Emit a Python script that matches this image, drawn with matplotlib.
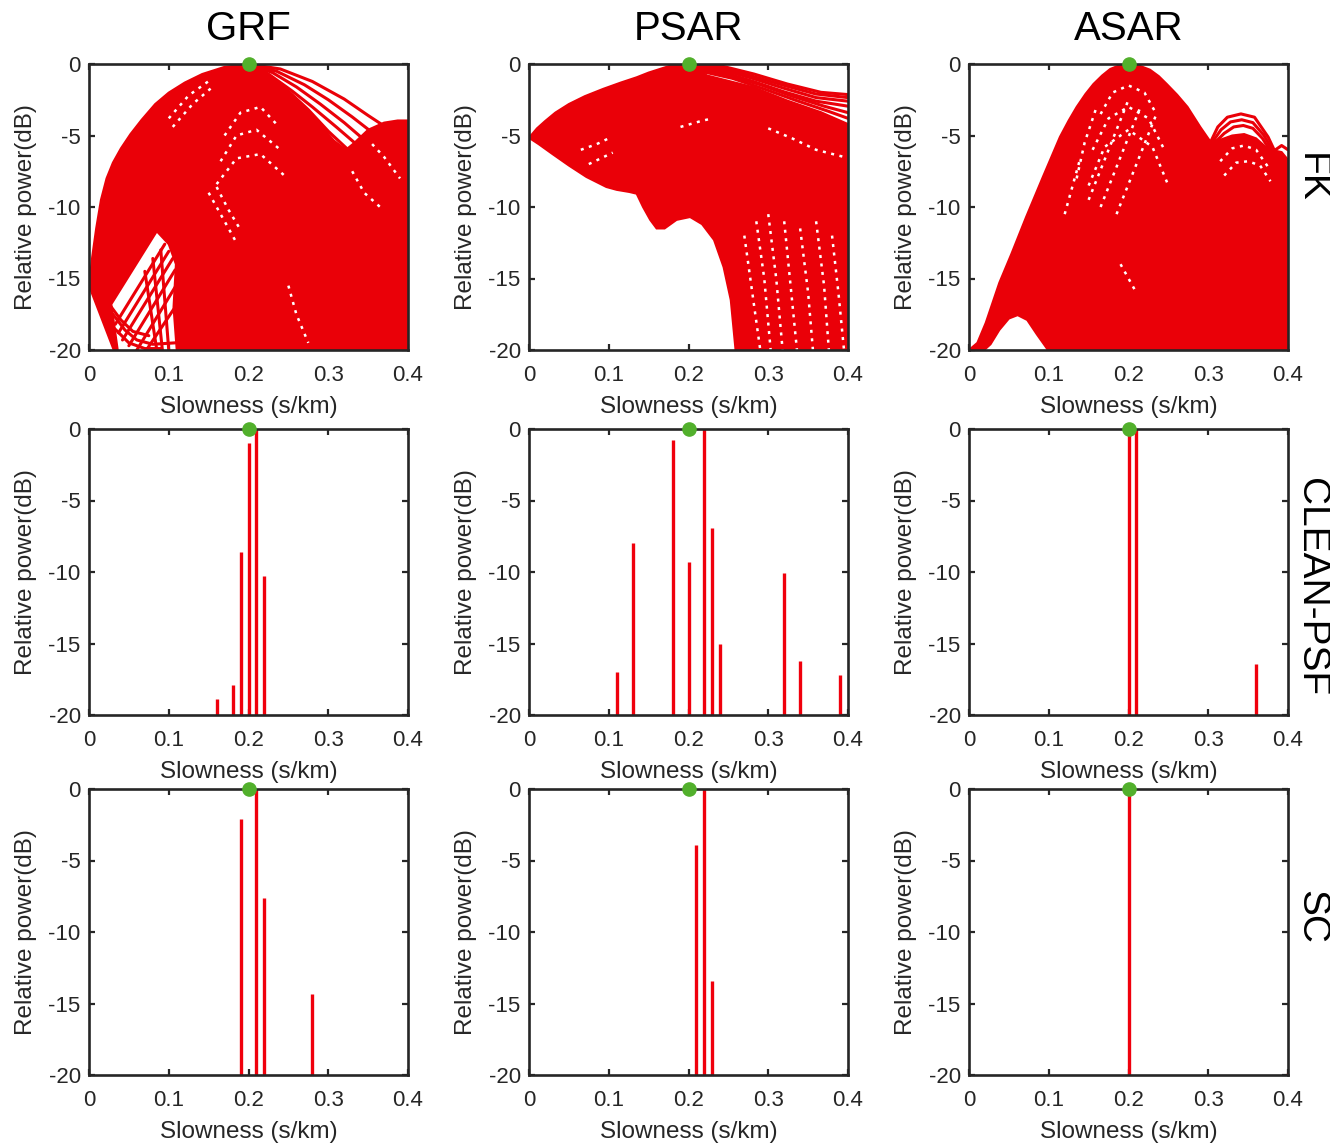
import matplotlib
matplotlib.use("Agg")
import matplotlib.pyplot as plt

plt.rcParams['font.family'] = ['Liberation Sans', 'DejaVu Sans']

# ---------------- data ----------------
methods = ["GRF", "PSAR", "ASAR"]
rows = ["FK", "CLEAN-PSF", "SC"]
xticks = [0, 0.1, 0.2, 0.3, 0.4]
xtick_labels = ["0", "0.1", "0.2", "0.3", "0.4"]
yticks = [-20, -15, -10, -5, 0]
ytick_labels = ["-20", "-15", "-10", "-5", "0"]
true_slowness = 0.2
true_power = 0.0

# FK: solid mass outlines (slowness, dB)
grf_fk_x = [0.000, 0.004, 0.009, 0.015, 0.022, 0.030, 0.040, 0.052, 0.066, 0.083, 0.100,
            0.120, 0.142, 0.170, 0.200,
            0.215, 0.248, 0.282, 0.307, 0.322, 0.333, 0.350, 0.370, 0.387, 0.400, 0.400,
            0.110, 0.106, 0.109, 0.100, 0.085, 0.028, 0.036, 0.031]
grf_fk_y = [-15.5, -13.5, -11.5, -9.5, -8.0, -6.9, -5.9, -4.9, -3.9, -2.8, -2.0,
            -1.3, -0.7, -0.2, 0.0,
            -0.47, -1.86, -3.72, -5.35, -6.0, -5.5, -4.6, -4.1, -3.95, -3.95, -20.0,
            -20.0, -17.0, -14.0, -12.6, -11.7, -16.8, -20.0, -20.0]
# FK: individual beam strands visible outside the solid mass
grf_strands = [
    ([0.200, 0.240, 0.280, 0.320, 0.350, 0.380], [0.0, -0.35, -1.22, -2.45, -3.6, -4.7]),
    ([0.200, 0.235, 0.270, 0.300, 0.330, 0.360], [0.0, -0.5, -1.45, -2.5, -3.7, -5.0]),
    ([0.200, 0.230, 0.260, 0.290, 0.320, 0.345], [0.0, -0.6, -1.6, -2.8, -4.1, -5.3]),
    ([0.200, 0.225, 0.255, 0.280, 0.310, 0.335], [0.0, -0.7, -1.9, -3.0, -4.4, -5.6]),
    ([0.200, 0.220, 0.250, 0.275, 0.300, 0.325], [0.0, -0.65, -1.9, -3.2, -4.7, -6.0]),
    ([0.033, 0.095], [-18.2, -12.6]),
    ([0.037, 0.100], [-18.8, -13.1]),
    ([0.042, 0.105], [-19.3, -13.6]),
    ([0.050, 0.108], [-19.7, -14.4]),
    ([0.060, 0.108], [-20.0, -15.6]),
    ([0.072, 0.108], [-20.0, -17.0]),
    ([0.030, 0.045, 0.060, 0.080, 0.108], [-17.5, -18.6, -19.3, -19.6, -19.5]),
    ([0.032, 0.050, 0.070, 0.090], [-18.5, -19.5, -19.9, -19.9]),
    ([0.028, 0.040, 0.055, 0.075], [-17.0, -17.9, -18.7, -19.0]),
    ([0.070, 0.085], [-14.5, -20.0]),
    ([0.080, 0.092], [-13.6, -20.0]),
    ([0.090, 0.100], [-13.0, -20.0]),
]
grf_gaps = [
    ([0.100, 0.125, 0.150], [-3.8, -2.2, -1.2]),
    ([0.105, 0.130, 0.155], [-4.4, -2.8, -1.6]),
    ([0.170, 0.190, 0.215, 0.235], [-5.0, -3.4, -3.0, -4.2]),
    ([0.165, 0.185, 0.210, 0.240], [-6.8, -5.0, -4.6, -6.0]),
    ([0.160, 0.185, 0.215, 0.245], [-8.4, -6.6, -6.3, -7.8]),
    ([0.150, 0.165, 0.185], [-9.0, -10.5, -12.5]),
    ([0.160, 0.175, 0.190], [-8.6, -10.2, -11.6]),
    ([0.250, 0.260, 0.275], [-15.5, -17.5, -19.5]),
    ([0.330, 0.345, 0.365], [-7.5, -9.0, -10.0]),
    ([0.355, 0.370, 0.390], [-5.6, -6.5, -8.0]),
]

psar_fk_x = [0.000, 0.010, 0.020, 0.033, 0.050, 0.070, 0.093, 0.115, 0.135, 0.150, 0.164, 0.181,
             0.200, 0.206,
             0.223, 0.282, 0.324, 0.366, 0.400, 0.400,
             0.259, 0.253, 0.244, 0.232, 0.217, 0.202, 0.185, 0.170, 0.160, 0.152,
             0.143, 0.135, 0.126, 0.110, 0.097, 0.072, 0.050, 0.029, 0.012]
psar_fk_y = [-5.16, -4.5, -4.0, -3.4, -2.8, -2.25, -1.74, -1.3, -0.93, -0.6, -0.35, -0.05,
             0.0, -0.05,
             -0.8, -1.63, -2.56, -3.37, -4.2, -20.0,
             -20.0, -16.5, -14.2, -12.3, -11.2, -10.7, -10.9, -11.5, -11.5, -10.9,
             -10.0, -9.07, -8.95, -8.8, -8.6, -7.9, -7.1, -6.28, -5.6]
psar_strands = [
    ([0.200, 0.240, 0.282, 0.324, 0.366, 0.400], [0.0, -0.12, -0.7, -1.4, -1.98, -2.14]),
    ([0.200, 0.240, 0.280, 0.320, 0.360, 0.400], [0.0, -0.25, -0.85, -1.5, -2.1, -2.35]),
    ([0.200, 0.240, 0.280, 0.320, 0.360, 0.400], [0.0, -0.38, -1.0, -1.7, -2.35, -2.6]),
    ([0.205, 0.240, 0.280, 0.320, 0.360, 0.400], [-0.1, -0.52, -1.2, -1.95, -2.6, -2.95]),
    ([0.210, 0.250, 0.290, 0.330, 0.370, 0.400], [-0.3, -0.8, -1.45, -2.25, -2.95, -3.4]),
    ([0.215, 0.255, 0.295, 0.335, 0.375, 0.400], [-0.5, -1.0, -1.75, -2.55, -3.3, -3.8]),
]
psar_gaps = [
    ([0.270, 0.280, 0.290], [-12.0, -16.0, -20.0]),
    ([0.285, 0.295, 0.303], [-11.0, -15.0, -20.0]),
    ([0.300, 0.310, 0.318], [-10.5, -15.0, -20.0]),
    ([0.320, 0.328, 0.336], [-11.0, -15.5, -20.0]),
    ([0.340, 0.350, 0.356], [-11.5, -16.0, -20.0]),
    ([0.360, 0.370, 0.376], [-11.0, -15.5, -20.0]),
    ([0.380, 0.388, 0.395], [-12.0, -16.0, -20.0]),
    ([0.190, 0.215, 0.230], [-4.4, -4.0, -3.8]),
    ([0.065, 0.085, 0.100], [-6.0, -5.6, -5.2]),
    ([0.075, 0.090, 0.105], [-7.0, -6.6, -6.2]),
    ([0.300, 0.330, 0.360, 0.395], [-4.5, -5.2, -6.0, -6.5]),
]

asar_fk_x = [0.000, 0.0105, 0.021, 0.038, 0.053, 0.0716, 0.0926, 0.114, 0.125, 0.135, 0.146, 0.156,
             0.167, 0.177, 0.189, 0.200, 0.212, 0.227, 0.238, 0.248, 0.261, 0.274, 0.290, 0.303,
             0.315, 0.330, 0.345, 0.360, 0.372, 0.383, 0.392, 0.400, 0.400,
             0.099, 0.085, 0.073, 0.061, 0.050, 0.038, 0.027, 0.019]
asar_fk_y = [-20.0, -19.5, -18.1, -15.3, -13.3, -10.7, -7.9, -5.1, -3.95, -3.0, -2.1, -1.4,
             -0.8, -0.35, -0.08, 0.0, -0.08, -0.4, -0.85, -1.4, -2.15, -3.0, -4.4, -5.45,
             -5.3, -5.0, -4.9, -5.2, -5.8, -6.05, -6.16, -6.7, -20.0,
             -20.0, -18.9, -17.9, -17.56, -17.8, -18.6, -19.6, -20.0]
asar_strands = [
    ([0.303, 0.312, 0.324, 0.341, 0.358, 0.375, 0.383], [-5.45, -4.4, -3.72, -3.49, -3.72, -5.1, -6.05]),
    ([0.306, 0.316, 0.328, 0.342, 0.356, 0.370, 0.380], [-5.4, -4.6, -4.05, -3.9, -4.1, -5.0, -6.0]),
    ([0.310, 0.320, 0.332, 0.344, 0.356, 0.368, 0.377], [-5.4, -4.85, -4.4, -4.3, -4.5, -5.2, -6.0]),
    ([0.383, 0.392, 0.400], [-6.05, -5.7, -6.0]),
]
asar_gaps = [
    ([0.165, 0.180, 0.200, 0.220, 0.235], [-3.5, -2.0, -1.5, -2.0, -3.5]),
    ([0.155, 0.175, 0.200, 0.225, 0.245], [-6.0, -3.8, -3.0, -3.8, -6.0]),
    ([0.150, 0.170, 0.200, 0.230, 0.250], [-8.5, -5.8, -4.6, -5.8, -8.5]),
    ([0.150, 0.175, 0.200], [-9.5, -6.0, -2.5]),
    ([0.165, 0.190, 0.215], [-10.0, -6.5, -3.0]),
    ([0.185, 0.210, 0.235], [-10.5, -7.0, -3.5]),
    ([0.135, 0.145, 0.160], [-8.0, -5.5, -3.0]),
    ([0.120, 0.130, 0.140], [-10.5, -8.5, -6.5]),
    ([0.315, 0.330, 0.345, 0.360, 0.375], [-6.8, -5.9, -5.7, -6.0, -7.2]),
    ([0.320, 0.335, 0.350, 0.365, 0.378], [-7.8, -6.9, -6.8, -7.1, -8.2]),
    ([0.190, 0.200, 0.210], [-14.0, -15.0, -16.0]),
]

# CLEAN-PSF peaks
grf_clean_s = [0.16, 0.18, 0.19, 0.20, 0.21, 0.22]
grf_clean_p = [-18.9, -17.9, -8.6, -1.0, 0.0, -10.3]
psar_clean_s = [0.11, 0.13, 0.18, 0.20, 0.22, 0.23, 0.24, 0.32, 0.34, 0.39]
psar_clean_p = [-17.0, -8.0, -0.75, -9.3, 0.0, -6.95, -15.0, -10.1, -16.2, -17.2]
asar_clean_s = [0.20, 0.21, 0.36]
asar_clean_p = [0.0, 0.0, -16.4]

# SC peaks
grf_sc_s = [0.19, 0.21, 0.22, 0.28]
grf_sc_p = [-2.1, 0.0, -7.65, -14.35]
psar_sc_s = [0.21, 0.22, 0.23]
psar_sc_p = [-3.9, 0.0, -13.45]
asar_sc_s = [0.20, 0.40]
asar_sc_p = [0.0, -19.85]

fk_data = [(grf_fk_x, grf_fk_y, grf_strands, grf_gaps),
           (psar_fk_x, psar_fk_y, psar_strands, psar_gaps),
           (asar_fk_x, asar_fk_y, asar_strands, asar_gaps)]
clean_data = [(grf_clean_s, grf_clean_p), (psar_clean_s, psar_clean_p), (asar_clean_s, asar_clean_p)]
sc_data = [(grf_sc_s, grf_sc_p), (psar_sc_s, psar_sc_p), (asar_sc_s, asar_sc_p)]

# ---------------- style ----------------
FK_RED = '#ea0008'
STEM_RED = '#f0000c'
GREEN = '#52b02c'
FRAME = '#262626'

W, H = 1330, 1145
fig = plt.figure(figsize=(W / 100, H / 100), dpi=100)
col_left = [89, 529, 969]
row_top = [64, 429, 789]
ax_w, ax_h = 319, 286


def style(ax):
    ax.set_xlim(0, 0.4)
    ax.set_ylim(-20, 0)
    ax.set_xticks(xticks)
    ax.set_xticklabels(xtick_labels)
    ax.set_yticks(yticks)
    ax.set_yticklabels(ytick_labels)
    ax.tick_params(direction='in', length=4, width=1.6, colors=FRAME,
                   labelsize=16, top=True, right=True)
    ax.tick_params(axis='x', pad=11)
    ax.tick_params(axis='y', pad=6)
    for s in ax.spines.values():
        s.set_color(FRAME)
        s.set_linewidth(1.9)
        s.set_zorder(6)
    ax.set_xlabel("Slowness (s/km)", fontsize=17.5, color=FRAME, labelpad=7)
    ax.set_ylabel("Relative power(dB)", fontsize=17.5, color=FRAME, labelpad=8)


for r in range(3):
    for c in range(3):
        l = col_left[c] / W
        b = (H - row_top[r] - ax_h) / H
        ax = fig.add_axes([l, b, ax_w / W, ax_h / H])
        style(ax)
        if r == 0:
            fx, fy, strands, gaps = fk_data[c]
            ax.fill(fx, fy, color=FK_RED, lw=1.5, ec=FK_RED, zorder=2)
            for sx, sy in strands:
                ax.plot(sx, sy, color=FK_RED, lw=2.2, solid_capstyle='round', zorder=2)
            for gx, gy in gaps:
                ax.plot(gx, gy, color='white', lw=1.8, dashes=(1.2, 2.2), zorder=3)
            ax.set_title(methods[c], fontsize=29, pad=17)
        else:
            s, p = (clean_data if r == 1 else sc_data)[c]
            ax.vlines(s, -20, p, color=STEM_RED, lw=2.4, zorder=3)
        ax.plot([true_slowness], [true_power], 'o', color=GREEN, ms=9.5,
                mec=GREEN, clip_on=False, zorder=7)

row_label_y = [178, 587, 917]
for name, yp in zip(rows, row_label_y):
    fig.text(1311 / W, 1 - yp / H, name, rotation=-90, fontsize=28,
             ha='center', va='center')

fig.savefig("out.png", dpi=100)
